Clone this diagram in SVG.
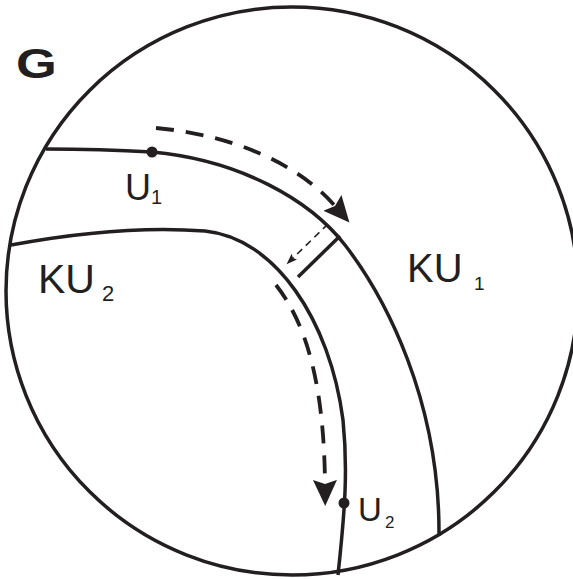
<svg xmlns="http://www.w3.org/2000/svg" width="573" height="579" viewBox="0 0 573 579">
  <style>
    .ln { fill: none; stroke: #231f20; stroke-width: 3.5; stroke-linecap: butt; }
    .dash { fill: none; stroke: #231f20; stroke-width: 3.8; stroke-dasharray: 18 12; }
    .dash-thin { fill: none; stroke: #231f20; stroke-width: 1.6; stroke-dasharray: 7 5; }
    .dot { fill: #231f20; }
    .t { font-family: "Liberation Sans", Arial, Helvetica, sans-serif; fill: #231f20; }
  </style>
  <defs>
    <marker id="ah" markerUnits="userSpaceOnUse" markerWidth="28" markerHeight="26" viewBox="0 0 28 26" refX="4" refY="12" orient="auto">
      <path d="M0,0 L26,12 L0,24 L4,12 z" fill="#231f20"/>
    </marker>
    <marker id="ahs" markerUnits="userSpaceOnUse" markerWidth="12" markerHeight="10" viewBox="0 0 12 10" refX="2" refY="4" orient="auto">
      <path d="M0,0 L11,4 L0,8 L2,4 z" fill="#231f20"/>
    </marker>
  </defs>
  <rect width="573" height="579" fill="#ffffff"/>

  <g id="boundary-G">
    <ellipse class="ln" cx="292" cy="291" rx="286" ry="284"/>
  </g>

  <g id="curve-U1">
    <path class="ln" d="M46,149 Q100,149 152,152 C240,160 310,200 345,245 C385,297 440,400 439,536"/>
    <circle class="dot" cx="152" cy="152" r="5.5"/>
  </g>

  <g id="curve-U2">
    <path class="ln" d="M11,245 C70,234 140,226 205,231 C275,238 330,320 343,420 C348,470 345,510 338,575"/>
    <circle class="dot" cx="344" cy="503" r="5.5"/>
  </g>

  <g id="connectors">
    <path class="ln" d="M340,236 L298,277"/>
    <path class="dash" d="M156,128 C225,134 295,160 335,206" marker-end="url(#ah)"/>
    <path class="dash" d="M276,285 C305,322 324,380 325,484" marker-end="url(#ah)"/>
    <path class="dash-thin" d="M328,224 L293,258" marker-end="url(#ahs)"/>
  </g>

  <g id="labels">
    <text class="t" transform="translate(16,78) scale(1.22,1)" font-size="43" font-weight="bold">G</text>
    <g id="label-U1">
      <text class="t" x="125" y="200" font-size="36">U</text>
      <text class="t" x="151" y="204" font-size="20">1</text>
    </g>
    <g id="label-U2">
      <text class="t" x="358" y="521" font-size="33">U</text>
      <text class="t" x="385" y="528" font-size="17">2</text>
    </g>
    <g id="label-KU2">
      <text class="t" x="38" y="293" font-size="41">KU</text>
      <text class="t" x="102" y="301" font-size="22">2</text>
    </g>
    <g id="label-KU1">
      <text class="t" x="407" y="282" font-size="40">KU</text>
      <text class="t" x="474" y="290" font-size="19">1</text>
    </g>
  </g>
</svg>
